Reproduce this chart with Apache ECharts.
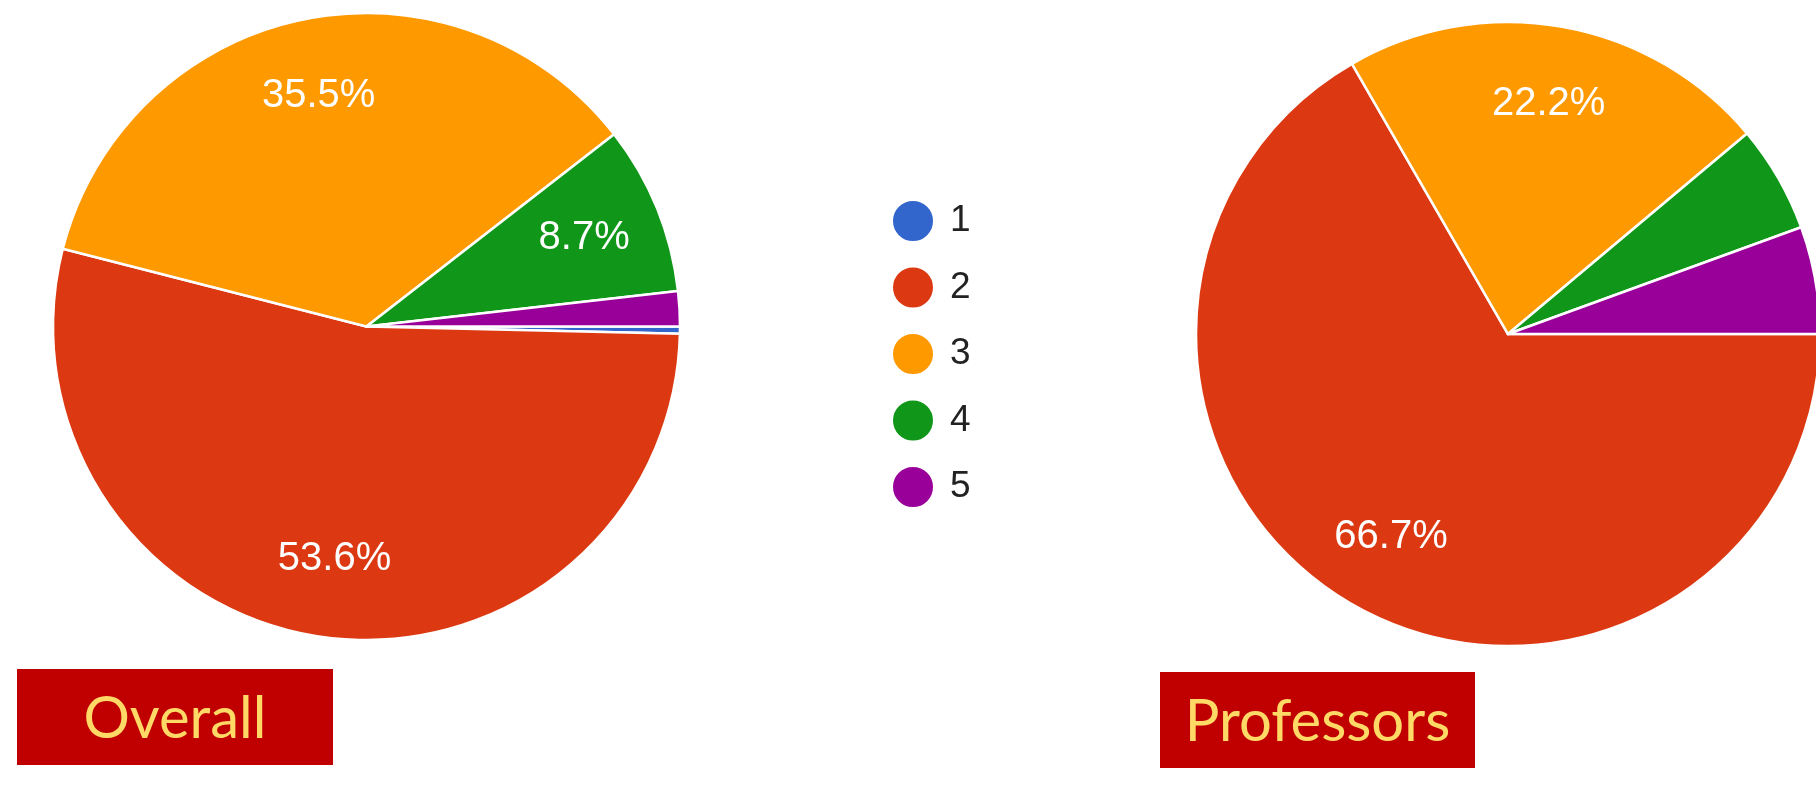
<!DOCTYPE html>
<html>
<head>
<meta charset="utf-8">
<script src="https://cdn.jsdelivr.net/npm/echarts@6/dist/echarts.min.js"></script>
<style>
  html, body { margin: 0; padding: 0; background: #ffffff; }
  #chart { width: 1816px; height: 787px; }
</style>
</head>
<body>
<div id="chart"></div>
<script>
// response counts per rating
const ratings = ["1", "2", "3", "4", "5"];
const overallCounts = [1, 148, 98, 24, 5];
const professorCounts = [0, 12, 4, 1, 1];
const groupTitles = ["Overall", "Professors"];

const palette = ["#3366cc", "#dc3912", "#ff9900", "#109618", "#990099"];

const toData = (counts) => ratings.map((name, i) => ({ name, value: counts[i] }));

// labels only on slices big enough to hold them
const pctLabel = (p) => (p.percent >= 7 ? p.percent.toFixed(1) + "%" : "");

const makePie = (counts, center, radius) => ({
    type: "pie",
    center,
    radius: [0, radius],
    startAngle: 0,
    clockwise: true,
    avoidLabelOverlap: false,
    label: { show: false },
    labelLine: { show: false },
    itemStyle: { borderColor: "#ffffff", borderWidth: 2.5 },
    emphasis: { disabled: true },
    data: toData(counts)
});

// transparent ring on top, so the inside labels sit at ~3/4 of the radius
const makeLabelRing = (counts, center, radius) => ({
    type: "pie",
    center,
    radius: [radius * 0.48, radius],
    startAngle: 0,
    clockwise: true,
    silent: true,
    avoidLabelOverlap: false,
    itemStyle: { color: "rgba(0,0,0,0)", borderWidth: 0 },
    label: {
        show: true,
        position: "inside",
        formatter: pctLabel,
        color: "#ffffff",
        fontFamily: "Liberation Sans, Arial, sans-serif",
        fontSize: 40
    },
    labelLine: { show: false },
    emphasis: { disabled: true },
    data: toData(counts)
});

const titleBox = (text, x, y, w, h) => ({
    type: "group",
    left: x,
    top: y,
    children: [
        { type: "rect", shape: { x: 0, y: 0, width: w, height: h }, style: { fill: "#c00000" } },
        {
            type: "text",
            x: w / 2,
            y: h / 2 + 2,
            style: {
                text,
                fill: "#ffd966",
                font: "58px Lato, sans-serif",
                align: "center",
                verticalAlign: "middle"
            }
        }
    ]
});

const chart = echarts.init(document.getElementById("chart"));
chart.setOption({
    animation: false,
    color: palette,
    legend: {
        orient: "vertical",
        left: 891,
        top: 199,
        padding: 0,
        icon: "circle",
        itemWidth: 42,
        itemHeight: 42,
        itemGap: 22.5,
        data: ratings,
        textStyle: {
            color: "#222222",
            fontFamily: "Liberation Sans, Arial, sans-serif",
            fontSize: 37,
            lineHeight: 42,
            padding: [0, 0, 0, 11]
        }
    },
    series: [
        makePie(overallCounts, [366.5, 326.5], 313.5),
        makePie(professorCounts, [1508, 334], 312),
        makeLabelRing(overallCounts, [366.5, 326.5], 313.5),
        makeLabelRing(professorCounts, [1508, 334], 312)
    ],
    graphic: [
        titleBox(groupTitles[0], 17, 669, 316, 96),
        titleBox(groupTitles[1], 1160, 672, 315, 96)
    ]
});
</script>
</body>
</html>
